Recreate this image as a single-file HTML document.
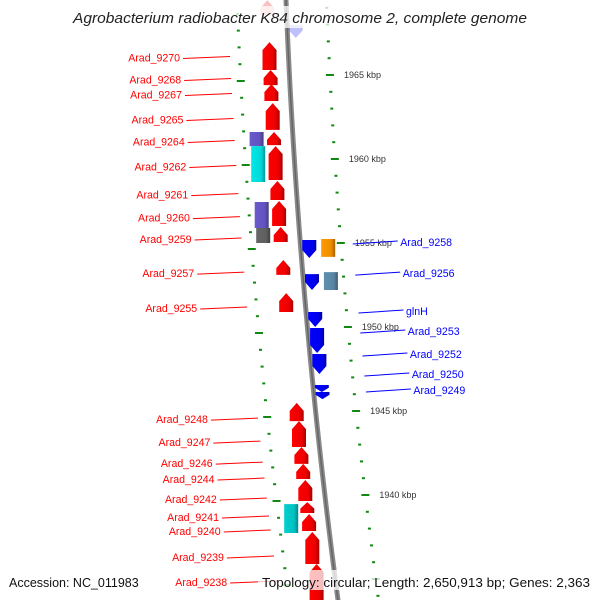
<!DOCTYPE html>
<html><head><meta charset="utf-8"><style>
html,body{margin:0;padding:0;background:#fff;}
svg{display:block;font-family:"Liberation Sans",sans-serif;}
</style></head><body>
<svg id="map" width="600" height="600" viewBox="0 0 600 600">
<g id="g-back"></g>
<g id="g-ticks"></g>
<g id="g-genes"></g>
<g id="g-labels"></g>
<rect x="70" y="6" width="460" height="22" fill="#fff" opacity="0.75"/>
<text x="300" y="23" text-anchor="middle" font-style="italic" font-size="14.5" fill="#222" textLength="454" lengthAdjust="spacingAndGlyphs">Agrobacterium radiobacter K84 chromosome 2, complete genome</text>
<rect x="258" y="570" width="336" height="20" fill="#fff" opacity="0.75"/>
<text x="9" y="587" font-size="12.5" fill="#111">Accession: NC_011983</text>
<text x="262" y="587" font-size="12.5" fill="#111" textLength="328" lengthAdjust="spacingAndGlyphs">Topology: circular; Length: 2,650,913 bp; Genes: 2,363</text>
</svg>
<script>
// ---- data (kbp coordinates) ----
const geneStart = [1969.46,1966.96,1965.30,1964.46,1963.33,1961.61,1960.77,1958.69,1957.50,1955.95,1953.99,1952.02,1945.48,1944.40,1942.86,1941.85,1940.89,1939.58,1938.87,1937.80,1935.89,
  1967.98,1955.18,1953.15,1950.89,1949.94,1948.39,1946.55,1946.13,
  1961.61,1960.77,1957.44,1955.89,1939.46,1955.24,1953.27];
const geneEnd = [1968.57,1965.30,1964.40,1963.45,1961.73,1960.83,1958.75,1957.56,1956.01,1955.06,1953.10,1950.89,1944.40,1942.86,1941.85,1940.95,1939.64,1938.93,1937.86,1935.89,1933.75,
  1967.20,1954.11,1952.20,1950.00,1948.45,1947.20,1946.13,1945.71,
  1960.77,1958.63,1955.89,1955.00,1937.74,1954.17,1952.20];
const geneStrand = [1,1,1,1,1,1,1,1,1,1,1,1,1,1,1,1,1,1,1,1,1, -1,-1,-1,-1,-1,-1,-1,-1, 0,0,0,0,0,0,0];
const geneColor = ['#ff0000','#ff0000','#ff0000','#ff0000','#ff0000','#ff0000','#ff0000','#ff0000','#ff0000','#ff0000','#ff0000','#ff0000','#ff0000','#ff0000','#ff0000','#ff0000','#ff0000','#ff0000','#ff0000','#ff0000','#ff0000',
  '#0000ff','#0000ff','#0000ff','#0000ff','#0000ff','#0000ff','#0000ff','#0000ff',
  '#6a5acd','#00e8e8','#6a5acd','#666666','#00d0d0','#ff9900','#5f8fb0'];
const geneFaded = [1,0,0,0,0,0,0,0,0,0,0,0,0,0,0,0,0,0,0,0,0, 1,0,0,0,0,0,0,0, 0,0,0,0,0,0,0];
const leftLabels = ['Arad_9270','Arad_9268','Arad_9267','Arad_9265','Arad_9264','Arad_9262','Arad_9261','Arad_9260','Arad_9259','Arad_9257','Arad_9255','Arad_9248','Arad_9247','Arad_9246','Arad_9244','Arad_9242','Arad_9241','Arad_9240','Arad_9239','Arad_9238'];
const leftLabelKbp = [1966.04,1964.73,1963.84,1962.35,1961.04,1959.55,1957.88,1956.51,1955.24,1953.21,1951.13,1944.52,1943.15,1941.90,1940.95,1939.76,1938.69,1937.86,1936.31,1934.82];
const rightLabels = ['Arad_9258','Arad_9256','glnH','Arad_9253','Arad_9252','Arad_9250','Arad_9249'];
const rightLabelKbp = [1955.06,1953.21,1950.95,1949.76,1948.39,1947.20,1946.25];
const tickKbp = [];
for (let k = 1969; k >= 1933; k--) tickKbp.push(k);
const majorLabels = [1965,1960,1955,1950,1945,1940];

// ---- scales ----
function yK(k){ return 75 + (1965 - k) * 16.8; }
function X(y, d){ return 283.5 + 0.04*y + 7.78e-5*y*y + d; }
const NS = 'http://www.w3.org/2000/svg';
function mk(tag, attrs, parent){ const e = document.createElementNS(NS, tag); for (const a in attrs) e.setAttribute(a, attrs[a]); parent.appendChild(e); return e; }

// backbone
const gb = document.getElementById('g-back');
let p1 = '';
for (let y = -5; y <= 605; y += 5){ p1 += (y===-5?'M':'L') + X(y,2.5).toFixed(2) + ' ' + y + ' '; }
const bb1 = mk('path', {d:p1, stroke:'#8a8a8a', 'stroke-width':5, fill:'none'}, gb);


const bb2 = mk('path', {d:p1, stroke:'#666', 'stroke-width':1.5, fill:'none'}, gb);



// ticks
const gt = document.getElementById('g-ticks');
tickKbp.forEach(k => {
  const major = k % 5 === 0;
  const w = major ? 8 : 3;
  const yr = yK(k);
  const tr = mk('rect', {x:X(yr,43)-w/2, y:yr-1, width:w, height:2, fill:'#118811'}, gt);
  
  
  const yl = yK(k) + 6;
  const tl = mk('rect', {x:X(yl,-46.5)-w/2, y:yl-1, width:w, height:2, fill:'#118811'}, gt);
  
  
  if (majorLabels.includes(k)){
    const t = mk('text', {x:X(yr,43)+14, y:yr+3, 'font-size':9, fill:'#333'}, gt);
    t.textContent = k + ' kbp';
    
    
  }
});

// genes
const gg = document.getElementById('g-genes');
const defs = mk('defs', {}, document.getElementById('map'));
function shade(c, f){ const n = parseInt(c.slice(1),16); let r=n>>16,g=(n>>8)&255,b=n&255; r=Math.round(r*f);g=Math.round(g*f);b=Math.round(b*f); return 'rgb('+r+','+g+','+b+')'; }
geneStart.forEach((s, i) => {
  const y0 = yK(s), y1 = yK(geneEnd[i]);
  const strand = geneStrand[i];
  const lane = strand === 1 ? -16.5 : strand === -1 ? 11 : (i >= 34 ? 30 : -34);
  const cx = X((y0+y1)/2, lane);
  const l = cx - 7, r = cx + 7;
  const gid = 'gr' + i;
  const lg = mk('linearGradient', {id:gid, x1:0, x2:1}, defs);
  mk('stop', {offset:0, 'stop-color':shade(geneColor[i],1)}, lg);
  mk('stop', {offset:0.7, 'stop-color':shade(geneColor[i],0.93)}, lg);
  mk('stop', {offset:1, 'stop-color':shade(geneColor[i],0.65)}, lg);
  const h = Math.min(8, (y1-y0)*0.6);
  let pts;
  if (strand === 1) pts = [[l,y1],[l,y0+h],[cx,y0],[r,y0+h],[r,y1]];
  else if (strand === -1) pts = [[l,y0],[r,y0],[r,y1-h],[cx,y1],[l,y1-h]];
  else pts = [[l,y0],[r,y0],[r,y1],[l,y1]];
  const g = mk('polygon', {points:pts.map(p=>p[0].toFixed(1)+','+p[1].toFixed(1)).join(' '), fill:'url(#'+gid+')', opacity: geneFaded[i] ? 0.25 : 1}, gg);
  
  
});

// labels
const gl = document.getElementById('g-labels');
leftLabels.forEach((lab, i) => {
  const y = yK(leftLabelKbp[i]);
  const ln = mk('line', {x1:X(y,-103), y1:y+1, x2:X(y,-56), y2:y-1, stroke:'#ff0000', 'stroke-width':1}, gl);
  
  
  const t = mk('text', {x:X(y,-106), y:y+4, 'text-anchor':'end', 'font-size':10.6, fill:'#ff0000'}, gl);
  t.textContent = lab;
  
  
});
rightLabels.forEach((lab, i) => {
  const y = yK(rightLabelKbp[i]);
  const ln = mk('line', {x1:X(y,55), y1:y+2, x2:X(y,100), y2:y-1, stroke:'#0000ff', 'stroke-width':1}, gl);
  
  
  const t = mk('text', {x:X(y,102.5), y:y+4, 'font-size':10.6, fill:'#0000ff'}, gl);
  t.textContent = lab;
  
  
});
</script>
</body></html>
